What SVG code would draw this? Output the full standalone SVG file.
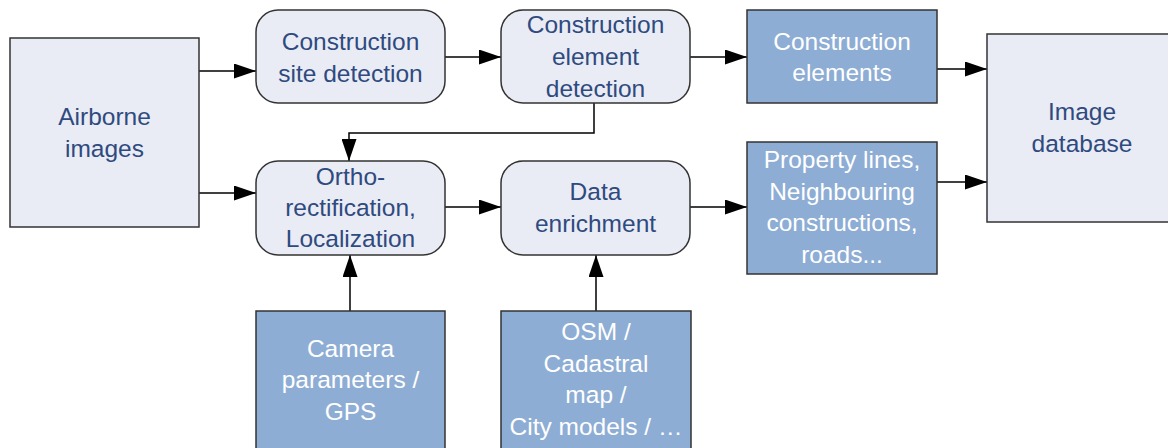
<svg xmlns="http://www.w3.org/2000/svg" width="1168" height="448" viewBox="0 0 1168 448">
<style>
.light{fill:#E9ECF5;stroke:#333;stroke-width:1.5}
.dark{fill:#8EADD4;stroke:#333;stroke-width:1.5}
text{font-family:"Liberation Sans",Arial,sans-serif;font-size:24.5px;text-anchor:middle}
.tl{fill:#2F4A7E}
.td{fill:#FFFFFF}
.conn{fill:none;stroke:#000;stroke-width:1.5}
</style>
<defs>
<marker id="arr" viewBox="0 0 22 15" refX="22" refY="7.5" markerWidth="22" markerHeight="15" markerUnits="userSpaceOnUse" orient="auto">
<path d="M0,0 L22,7.5 L0,15 Z" fill="#000"/>
</marker>
</defs>
<rect width="1168" height="448" fill="#fff"/>
<g id="connectors">
<path class="conn" marker-end="url(#arr)" d="M199,71 H256"/>
<path class="conn" marker-end="url(#arr)" d="M199,193 H256"/>
<path class="conn" marker-end="url(#arr)" d="M445,57 H501"/>
<path class="conn" marker-end="url(#arr)" d="M690,57 H747"/>
<path class="conn" marker-end="url(#arr)" d="M594,103 V133 H349 V161"/>
<path class="conn" marker-end="url(#arr)" d="M445,207 H501"/>
<path class="conn" marker-end="url(#arr)" d="M690,207 H747"/>
<path class="conn" marker-end="url(#arr)" d="M937,69 H987"/>
<path class="conn" marker-end="url(#arr)" d="M937,182 H987"/>
<path class="conn" marker-end="url(#arr)" d="M350,311 V255"/>
<path class="conn" marker-end="url(#arr)" d="M596,311 V255"/>
</g>
<g id="airborne">
<rect class="light" x="10" y="38" width="189" height="189"/>
<text class="tl" x="104.5" y="125">Airborne</text>
<text class="tl" x="104.5" y="157">images</text>
</g>
<g id="site-detection">
<rect class="light" x="256" y="10" width="189" height="93" rx="22"/>
<text class="tl" x="350.5" y="50">Construction</text>
<text class="tl" x="350.5" y="82">site detection</text>
</g>
<g id="element-detection">
<rect class="light" x="501" y="10" width="189" height="93" rx="22"/>
<text class="tl" x="595.5" y="33">Construction</text>
<text class="tl" x="595.5" y="65">element</text>
<text class="tl" x="595.5" y="97">detection</text>
</g>
<g id="construction-elements">
<rect class="dark" x="747" y="10" width="190" height="93"/>
<text class="td" x="842" y="50">Construction</text>
<text class="td" x="842" y="81">elements</text>
</g>
<g id="ortho">
<rect class="light" x="256" y="161" width="189" height="94" rx="22"/>
<text class="tl" x="350.5" y="185">Ortho-</text>
<text class="tl" x="350.5" y="216">rectification,</text>
<text class="tl" x="350.5" y="247">Localization</text>
</g>
<g id="data-enrichment">
<rect class="light" x="501" y="161" width="189" height="94" rx="22"/>
<text class="tl" x="595.5" y="200">Data</text>
<text class="tl" x="595.5" y="232">enrichment</text>
</g>
<g id="property-lines">
<rect class="dark" x="747" y="142" width="190" height="132"/>
<text class="td" x="842" y="168">Property lines,</text>
<text class="td" x="842" y="200">Neighbouring</text>
<text class="td" x="842" y="231">constructions,</text>
<text class="td" x="842" y="263">roads...</text>
</g>
<g id="image-database">
<rect class="light" x="987" y="34" width="190" height="188"/>
<text class="tl" x="1082" y="120">Image</text>
<text class="tl" x="1082" y="152">database</text>
</g>
<g id="camera">
<rect class="dark" x="256" y="311" width="189" height="150"/>
<text class="td" x="350.5" y="357">Camera</text>
<text class="td" x="350.5" y="388">parameters /</text>
<text class="td" x="350.5" y="420">GPS</text>
</g>
<g id="osm">
<rect class="dark" x="501" y="311" width="190" height="150"/>
<text class="td" x="596" y="340">OSM /</text>
<text class="td" x="596" y="372">Cadastral</text>
<text class="td" x="596" y="403">map /</text>
<text class="td" x="596" y="435">City models / …</text>
</g>
</svg>
